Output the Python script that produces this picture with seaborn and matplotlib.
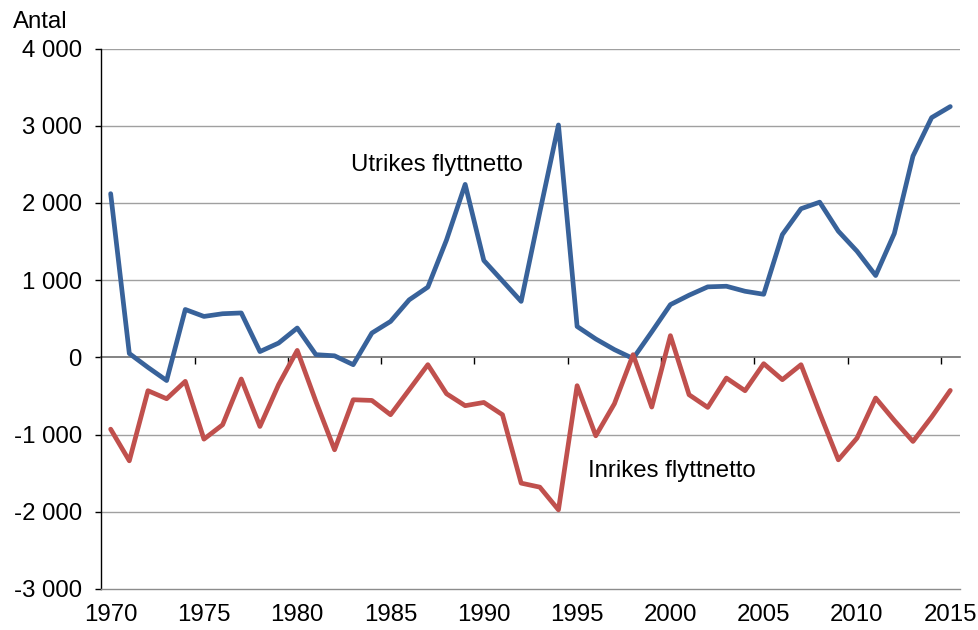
import numpy as np
import pandas as pd
import matplotlib
matplotlib.use('Agg')
import matplotlib.pyplot as plt
from matplotlib.ticker import FuncFormatter
import seaborn as sns

years = list(range(1970, 2016))

# Utrikes flyttnetto (net international migration)
utrikes = [2120, 50, -130, -300, 620, 530, 565, 575, 75, 185,
           380, 35, 20, -95, 315, 465, 745, 910, 1520, 2240,
           1255, 990, 725, 1880, 3010, 400, 238, 100, -15, 330,
           683, 805, 913, 921, 856, 817, 1590, 1925, 2010, 1634,
           1375, 1060, 1604, 2607, 3105, 3248]

# Inrikes flyttnetto (net domestic migration)
inrikes = [-930, -1340, -432, -536, -311, -1059, -873, -280, -895, -354,
           90, -571, -1197, -549, -558, -743, -420, -95, -471, -626,
           -584, -743, -1629, -1681, -1975, -367, -1016, -600, 35, -644,
           281, -484, -648, -268, -432, -82, -289, -95, -722, -1327,
           -1046, -527, -817, -1089, -773, -428]

series_names = ['Utrikes flyttnetto', 'Inrikes flyttnetto']
colors = ['#38629a', '#c0504d']
label_years = list(range(1970, 2016, 5))
boundaries = [y - 0.5 for y in range(1975, 2016, 5)]

df = pd.DataFrame({
    'year': years * 2,
    'value': utrikes + inrikes,
    'serie': [series_names[0]] * len(years) + [series_names[1]] * len(years),
})

sns.set_style('white')
plt.rcParams['font.family'] = ['Liberation Sans', 'DejaVu Sans']
plt.rcParams['text.color'] = 'black'
fs = 17.3

fig = plt.figure(figsize=(9.79, 6.3), dpi=100)
ax = fig.add_axes([0.1035, 0.0651, 0.8767, 0.8579])

# horizontal gridlines
for v in range(-2000, 5000, 1000):
    if v != 0:
        ax.axhline(v, color='#a0a0a0', lw=1, zorder=0)

sns.lineplot(data=df, x='year', y='value', hue='serie', hue_order=series_names,
             palette=colors, lw=3.4, legend=False, ax=ax,
             solid_joinstyle='round', solid_capstyle='round')

ax.set_xlim(1969.5, 2015.5)
ax.set_ylim(-3000, 4000)
ax.set_xlabel('')
ax.set_ylabel('')

for side in ['top', 'right']:
    ax.spines[side].set_visible(False)
ax.spines['bottom'].set_color('#8c8c8c')
ax.spines['bottom'].set_linewidth(1)
ax.spines['left'].set_color('black')
ax.spines['left'].set_linewidth(1)

ax.set_yticks(range(-3000, 5000, 1000))
ax.yaxis.set_major_formatter(FuncFormatter(lambda v, p: f'{int(v):,}'.replace(',', ' ')))
ax.tick_params(axis='y', direction='out', length=4, width=1, color='black',
               pad=10, labelsize=fs, labelcolor='black', left=True)

ax.set_xticks(label_years)
ax.tick_params(axis='x', length=0, pad=11, labelsize=fs, labelcolor='black')

# category axis crossing at zero with tick marks between categories
zero_axis = ax.secondary_xaxis(3 / 7)
zero_axis.set_xticks(boundaries)
zero_axis.tick_params(axis='x', direction='out', length=5, width=1, color='black',
                      labelbottom=False, labeltop=False, bottom=True)
zero_axis.spines['bottom'].set_color('#6e6e6e')
zero_axis.spines['bottom'].set_linewidth(1.2)
zero_axis.set_zorder(1)

ax.text(1982.9, 2410, 'Utrikes flyttnetto', fontsize=fs, va='baseline', ha='left')
ax.text(1995.6, -1556, 'Inrikes flyttnetto', fontsize=fs, va='baseline', ha='left')
fig.text(13 / 979, 1 - 28 / 630, 'Antal', fontsize=fs, va='baseline', ha='left')

fig.savefig('out.png', dpi=100)
